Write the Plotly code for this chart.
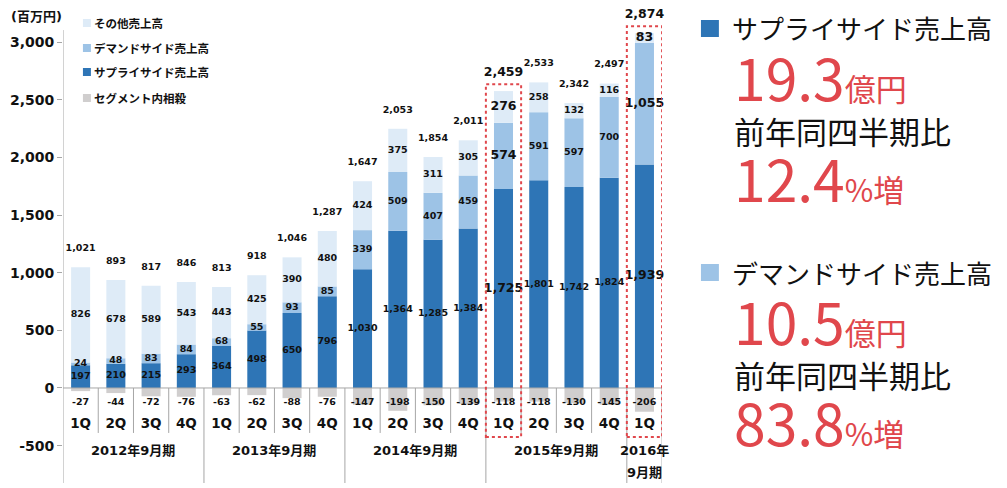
import plotly.graph_objects as go

# データ (百万円)
periods = ["2012年9月期"] * 4 + ["2013年9月期"] * 4 + ["2014年9月期"] * 4 + ["2015年9月期"] * 4 + ["2016年9月期"]
quarters = ["1Q", "2Q", "3Q", "4Q"] * 4 + ["1Q"]
supply = [197, 210, 215, 293, 364, 498, 650, 796, 1030, 1364, 1285, 1384, 1725, 1801, 1742, 1824, 1939]
demand = [24, 48, 83, 84, 68, 55, 93, 85, 339, 509, 407, 459, 574, 591, 597, 700, 1055]
other = [826, 678, 589, 543, 443, 425, 390, 480, 424, 375, 311, 305, 276, 258, 132, 116, 83]
elim = [-27, -44, -72, -76, -63, -62, -88, -76, -147, -198, -150, -139, -118, -118, -130, -145, -206]
total = [1021, 893, 817, 846, 813, 918, 1046, 1287, 1647, 2053, 1854, 2011, 2459, 2533, 2342, 2497, 2874]
highlight = [12, 16]

year_names = ["2012年9月期", "2013年9月期", "2014年9月期", "2015年9月期"]
ytick_vals = [-500, 0, 500, 1000, 1500, 2000, 2500, 3000]

C_SUPPLY = "#2E75B6"
C_DEMAND = "#9DC3E6"
C_OTHER = "#DEEBF7"
C_ELIM = "#D0CECE"
C_RED = "#E0474C"
C_AXIS = "#A6A6A6"
FONT = "DejaVu Sans, Noto Sans CJK JP"
JP = "Noto Sans CJK JP"

# ページ座標 (body の margin 8px 分をずらす)
OFF = 8
W, H = 1007 - OFF, 488 - OFF
ML, MR, MT, MB = 60 - OFF, 10, 10 - OFF, 5
PW, PH = W - ML - MR, H - MT - MB


def px(p):
    return (p - OFF - ML) / PW


def py(p):
    return (H + OFF - MB - p) / PH


cats = [p + " " + q for p, q in zip(periods, quarters)]
n = len(cats)
tops = [s + d + o for s, d, o in zip(supply, demand, other)]
sizes = [12.5 if i in highlight else 9.5 for i in range(n)]

fig = go.Figure()
for name, vals, col in [("セグメント内相殺", elim, C_ELIM), ("サプライサイド売上高", supply, C_SUPPLY),
                        ("デマンドサイド売上高", demand, C_DEMAND), ("その他売上高", other, C_OTHER)]:
    fig.add_bar(x=cats, y=vals, name=name, marker=dict(color=col, line_width=0), width=0.54,
                showlegend=False, hoverinfo="skip")


def labels(ys, vals, sz):
    fig.add_scatter(x=cats, y=ys, mode="text", text=["<b>{:,}</b>".format(v) for v in vals],
                    textfont=dict(size=sz, family=FONT, color="#111111"), cliponaxis=False,
                    showlegend=False, hoverinfo="skip")


labels([s / 2 for s in supply], supply, sizes)
labels([s + d / 2 for s, d in zip(supply, demand)], demand, sizes)
labels([s + d + o / 2 for s, d, o in zip(supply, demand, other)], other, sizes)
labels([t + 160 for t in tops], total, sizes)
labels([-130] * n, elim, [9.5] * n)
fig.add_scatter(x=cats, y=[-321] * n, mode="text", text=["<b>%s</b>" % q for q in quarters],
                textfont=dict(size=13.5, family=FONT, color="#111111"), cliponaxis=False,
                showlegend=False, hoverinfo="skip")

shapes = []
line = dict(color=C_AXIS, width=1)
shapes.append(dict(type="line", xref="x", yref="y", x0=-0.5, x1=n - 0.5, y0=0, y1=0, line=line))
shapes.append(dict(type="line", xref="x", yref="y", x0=-0.5, x1=-0.5, y0=-824, y1=3104, line=line))
for i in range(n):
    xb = i + 0.5
    long_div = (i % 4 == 3) or i == n - 1
    shapes.append(dict(type="line", xref="x", yref="y", x0=xb, x1=xb, y0=0,
                       y1=-824 if long_div else -390, line=line))
for i in highlight:
    shapes.append(dict(type="rect", xref="x", yref="y", x0=i - 0.5, x1=i + 0.5, y0=-425, y1=tops[i] + 60,
                       line=dict(color=C_RED, width=2, dash="dot"), fillcolor="rgba(0,0,0,0)"))

ann = []
for k, yn in enumerate(year_names):
    ann.append(dict(x=4 * k + 1.5, y=-538, xref="x", yref="y", text="<b>%s</b>" % yn, showarrow=False,
                    font=dict(size=13, family=FONT, color="#111111")))
ann.append(dict(x=n - 1, y=-545, xref="x", yref="y", text="<b>2016年</b>", showarrow=False,
                font=dict(size=13, family=FONT, color="#111111")))
ann.append(dict(x=n - 1, y=-735, xref="x", yref="y", text="<b>9月期</b>", showarrow=False,
                font=dict(size=13, family=FONT, color="#111111")))
ann.append(dict(x=px(6), y=py(16), xref="paper", yref="paper", xanchor="left", yanchor="middle",
                text="<b>(百万円)</b>", showarrow=False, font=dict(size=13, family=FONT, color="#111111")))

# 凡例
legend_items = [("その他売上高", C_OTHER, 23), ("デマンドサイド売上高", C_DEMAND, 48),
                ("サプライサイド売上高", C_SUPPLY, 72), ("セグメント内相殺", C_ELIM, 98)]
for txt, col, yc in legend_items:
    shapes.append(dict(type="rect", xref="paper", yref="paper", x0=px(80), x1=px(88), y0=py(yc + 4), y1=py(yc - 4),
                       fillcolor=col, line_width=0))
    ann.append(dict(x=px(89), y=py(yc), xref="paper", yref="paper", xanchor="left", yanchor="middle",
                    text="<b>%s</b>" % txt, showarrow=False, font=dict(size=11.5, family=JP, color="#111111")))

# 右側のテキスト
blocks = [
    ("サプライサイド売上高", C_SUPPLY, 0, "19.3", "億円", "12.4", "%増"),
    ("デマンドサイド売上高", C_DEMAND, 244, "10.5", "億円", "83.8", "%増"),
]
for title, col, dy, v1, u1, v2, u2 in blocks:
    shapes.append(dict(type="rect", xref="paper", yref="paper", x0=px(700), x1=px(718), y0=py(37 + dy),
                       y1=py(20 + dy), fillcolor=col, line_width=0))
    ann.append(dict(x=px(729), y=py(28 + dy), xref="paper", yref="paper", xanchor="left", yanchor="middle",
                    text=title, showarrow=False, font=dict(size=26, family=JP, color="#111111")))
    ann.append(dict(x=px(731), y=py(76 + dy), xref="paper", yref="paper", xanchor="left", yanchor="middle",
                    text=v1 + "<span style='font-size:31px'>" + u1 + "</span>", showarrow=False,
                    font=dict(size=57, family=JP, color=C_RED)))
    ann.append(dict(x=px(731), y=py(130 + dy), xref="paper", yref="paper", xanchor="left", yanchor="middle",
                    text="前年同四半期比", showarrow=False, font=dict(size=31, family=JP, color="#111111")))
    ann.append(dict(x=px(731), y=py(177 + dy), xref="paper", yref="paper", xanchor="left", yanchor="middle",
                    text=v2 + "<span style='font-size:31px'>" + u2 + "</span>", showarrow=False,
                    font=dict(size=57, family=JP, color=C_RED)))

fig.update_layout(
    barmode="relative",
    width=W, height=H,
    margin=dict(l=ML, r=MR, t=MT, b=MB),
    paper_bgcolor="white", plot_bgcolor="white",
    shapes=shapes, annotations=ann,
    xaxis=dict(domain=[0, px(661)], range=[-0.5, n - 0.5], showticklabels=False, showgrid=False,
               zeroline=False, showline=False, ticks=""),
    yaxis=dict(range=[-824, 3278], tickvals=ytick_vals, ticktext=["{:,}".format(v) for v in ytick_vals],
               showgrid=False, zeroline=False, showline=False, ticks="outside", ticklen=5, tickcolor=C_AXIS,
               tickfont=dict(size=14, family=FONT, color="#111111", weight="bold")),
)

fig.write_html("out.html")
